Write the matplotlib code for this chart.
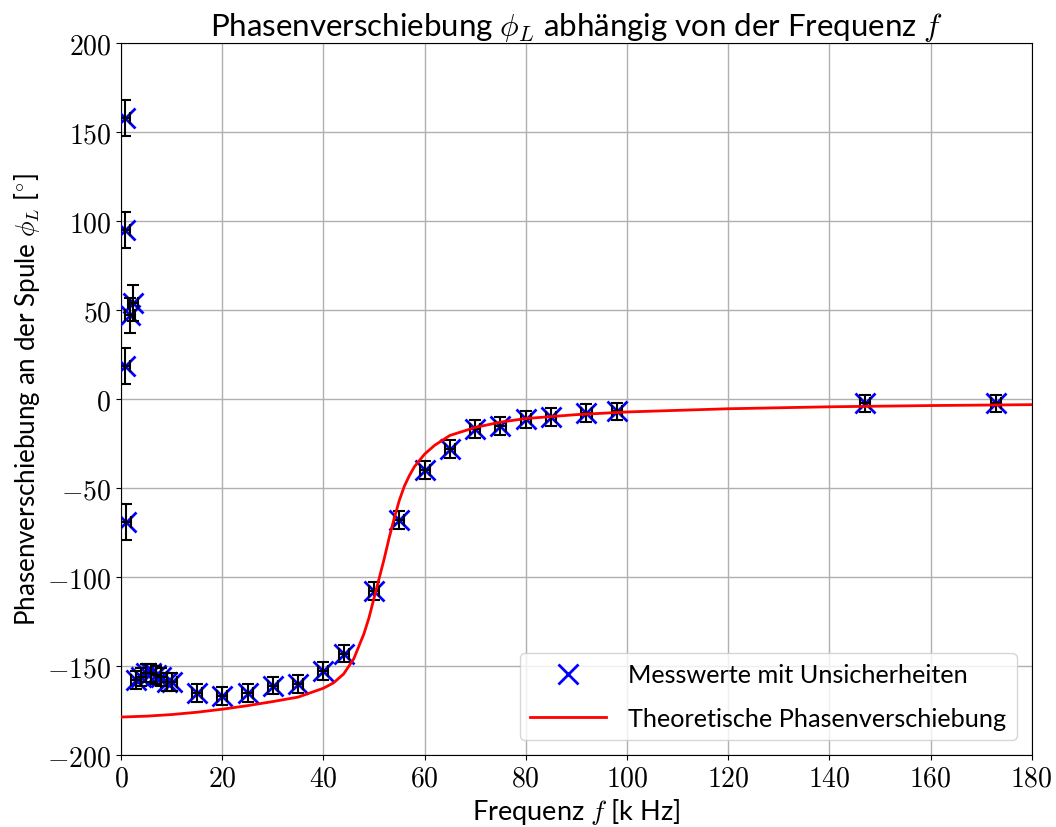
import matplotlib
matplotlib.use('Agg')
import matplotlib.pyplot as plt
from matplotlib.ticker import FuncFormatter

plt.rcParams['mathtext.fontset'] = 'cm'
plt.rcParams['font.family'] = ['Lato', 'DejaVu Sans']
plt.rcParams['font.size'] = 20

f_mess = [0.8, 0.8, 2.3, 1.8, 0.8, 0.9,
          3, 4, 5, 6, 7, 8, 9, 10,
          15, 20, 25, 30, 35, 40, 44, 50, 55, 60, 65, 70, 75, 80, 85, 92, 98, 147, 173]
phi_mess = [158, 95, 54, 47, 18.5, -69,
            -158, -156, -154, -154, -155, -156, -159, -159,
            -165, -167, -165, -161, -160, -153, -143, -108, -68, -40, -28,
            -17, -15, -11.5, -10, -8, -7, -2.5, -2.5]
f_err = [1] * len(f_mess)
phi_err = [10, 10, 10, 10, 10, 10] + [5] * (len(f_mess) - 6)

# Theoriekurve
f_theo = [0, 5, 10, 15, 20, 25, 30, 35, 40, 42, 44, 46, 48, 49, 50, 51, 52, 53, 54,
          55, 56, 57, 58, 60, 62, 65, 70, 75, 80, 90, 100, 120, 140, 160, 180]
phi_theo = [-178.7, -178.2, -177.3, -176, -174.3, -172.3, -170, -167.5, -162.5, -159.5,
            -154.5, -146, -132, -123, -112, -101, -90, -78, -67, -57, -49, -43, -38,
            -31, -26, -20.5, -16, -13, -11, -8.8, -7.3, -5.5, -4.4, -3.7, -3.2]

fig = plt.figure(figsize=(10.56, 8.28), dpi=100)
ax = fig.add_axes([0.1146, 0.087, 0.8624, 0.8599])

ax.plot(f_mess, phi_mess, 'x', color='blue', markersize=15, mew=2,
        label='Messwerte mit Unsicherheiten', zorder=3)
ax.errorbar(f_mess, phi_mess, xerr=f_err, yerr=phi_err, fmt='none',
            ecolor='black', capsize=4, elinewidth=1.5, capthick=1.5, zorder=4)
ax.plot(f_theo, phi_theo, color='red', lw=2,
        label='Theoretische Phasenverschiebung', zorder=5)

ax.set_xlim(0, 180)
ax.set_ylim(-200, 200)
ax.set_xticks(range(0, 181, 20))
ax.set_yticks(range(-200, 201, 50))
fmt = FuncFormatter(lambda v, p: r'$%d$' % v)
ax.xaxis.set_major_formatter(fmt)
ax.yaxis.set_major_formatter(fmt)
ax.grid(True, color='#b0b0b0', lw=1)
ax.set_axisbelow(True)

ax.set_title(r'Phasenverschiebung $\phi_L$ abhängig von der Frequenz $f$', fontsize=22.5)
ax.set_xlabel(r'Frequenz $f$ [k Hz]', fontsize=19.5)
ax.set_ylabel(r'Phasenverschiebung an der Spule $\phi_L$ [$^{\circ}$]', fontsize=18.7)
ax.legend(loc='lower right', fontsize=18.2, handlelength=3.0, labelspacing=0.8,
          handletextpad=0.9, borderaxespad=0.6)

fig.savefig('out.png', dpi=100)
